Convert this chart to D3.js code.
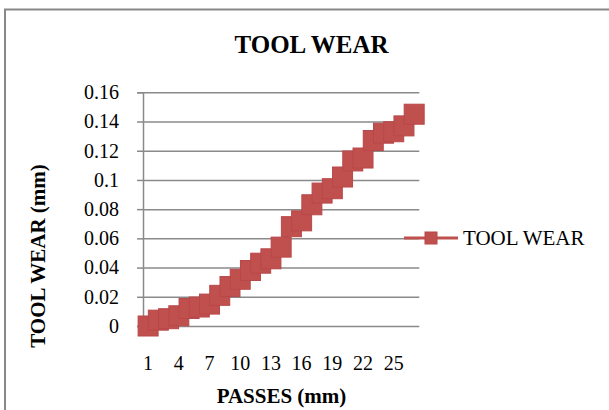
<!DOCTYPE html>
<html>
<head>
<meta charset="utf-8">
<script src="https://cdn.jsdelivr.net/npm/d3@7"></script>
<style>
  body { margin: 0; background: #fff; }
  svg { display: block; font-family: "Liberation Serif", "Times New Roman", serif; }
</style>
</head>
<body>
<div id="chart"></div>
<script>
// data
var passes = d3.range(1, 28).map(String);
var toolWear = [0.000, 0.004, 0.005, 0.007, 0.012, 0.013, 0.015, 0.021, 0.027, 0.032,
                0.038, 0.043, 0.046, 0.054, 0.068, 0.072, 0.083, 0.091, 0.094, 0.102,
                0.113, 0.115, 0.127, 0.132, 0.133, 0.137, 0.145];
var yTicks = [0, 0.02, 0.04, 0.06, 0.08, 0.1, 0.12, 0.14, 0.16];
var xLabels = ['1', '4', '7', '10', '13', '16', '19', '22', '25'];
var seriesName = 'TOOL WEAR';

var width = 609, height = 410;
var red = '#C0504D', grid = '#8a8a8a';

var svg = d3.select('#chart').append('svg')
    .attr('width', width).attr('height', height);

// outer frame (runs off right and bottom)
svg.append('rect')
    .attr('x', 5).attr('y', 9.5)
    .attr('width', 640).attr('height', 440)
    .attr('fill', '#fff').attr('stroke', '#888').attr('stroke-width', 2);

var plot = { left: 143, right: 419.3, top: 92.3, bottom: 326 };

var x = d3.scaleBand().domain(passes).range([plot.left, plot.right]);
var y = d3.scaleLinear().domain([0, 0.16]).range([plot.bottom, plot.top]);

// gridlines
svg.append('g')
    .attr('transform', 'translate(' + plot.left + ',0)')
    .call(d3.axisLeft(y).tickValues(yTicks).tickSize(-(plot.right - plot.left)).tickFormat(''))
    .call(function (g) {
        g.select('.domain').remove();
        g.selectAll('line').attr('stroke', grid).attr('stroke-width', 1.5);
    });

// y axis with small outer ticks
svg.append('g')
    .attr('transform', 'translate(' + plot.left + ',0)')
    .call(d3.axisLeft(y).tickValues(yTicks).tickSize(6).tickPadding(18).tickFormat(function (d) { return String(d); }))
    .call(function (g) {
        g.select('.domain').attr('stroke', grid).attr('stroke-width', 1.5);
        g.selectAll('line').attr('stroke', grid).attr('stroke-width', 1.5);
        g.selectAll('text').attr('font-size', 20).attr('font-family', '"Liberation Serif", serif').attr('fill', '#000');
    });

// x axis labels
svg.append('g')
    .attr('transform', 'translate(0,' + plot.bottom + ')')
    .call(d3.axisBottom(x).tickValues(xLabels).tickSize(0).tickPadding(30))
    .call(function (g) {
        g.select('.domain').remove();
        g.selectAll('text').attr('font-size', 20).attr('font-family', '"Liberation Serif", serif').attr('fill', '#000');
    });

// series line + markers
var line = d3.line()
    .x(function (d, i) { return x(passes[i]) + x.bandwidth() / 2; })
    .y(function (d) { return y(d); });

svg.append('path')
    .datum(toolWear)
    .attr('d', line)
    .attr('fill', 'none').attr('stroke', red).attr('stroke-width', 3);

var ms = 20;
svg.append('g').selectAll('rect')
    .data(toolWear)
    .enter().append('rect')
    .attr('x', function (d, i) { return x(passes[i]) + x.bandwidth() / 2 - ms / 2; })
    .attr('y', function (d) { return y(d) - ms / 2; })
    .attr('width', ms).attr('height', ms)
    .attr('fill', red).attr('stroke', '#b8474a').attr('stroke-width', 1);

// titles
svg.append('text')
    .attr('x', 311.5).attr('y', 53)
    .attr('text-anchor', 'middle').attr('font-weight', 'bold').attr('font-size', 25)
    .text('TOOL WEAR');

svg.append('text')
    .attr('x', 281.5).attr('y', 403)
    .attr('text-anchor', 'middle').attr('font-weight', 'bold').attr('font-size', 21)
    .text('PASSES (mm)');

svg.append('text')
    .attr('transform', 'translate(45,256) rotate(-90)')
    .attr('text-anchor', 'middle').attr('font-weight', 'bold').attr('font-size', 21)
    .text('TOOL WEAR (mm)');

// legend
var legend = svg.append('g').attr('transform', 'translate(404,238)');
legend.append('line')
    .attr('x1', 0).attr('x2', 54).attr('y1', 0).attr('y2', 0)
    .attr('stroke', red).attr('stroke-width', 3);
legend.append('rect')
    .attr('x', 27 - 6).attr('y', -6).attr('width', 12).attr('height', 12)
    .attr('fill', red).attr('stroke', '#b8474a').attr('stroke-width', 1);
legend.append('text')
    .attr('x', 59).attr('y', 7)
    .attr('font-size', 21)
    .text(seriesName);
</script>
</body>
</html>
